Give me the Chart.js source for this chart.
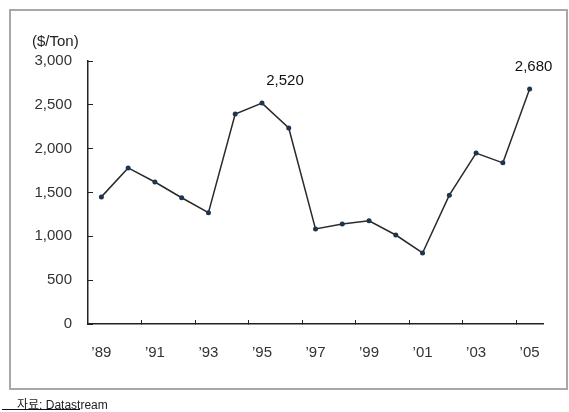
<!DOCTYPE html>
<html>
<head>
<meta charset="utf-8">
<script src="https://cdn.jsdelivr.net/npm/chart.js@4.4.1/dist/chart.umd.min.js"></script>
<style>
  html, body { margin: 0; padding: 0; background: #fff; }
  #wrap { position: relative; width: 569px; height: 412px; overflow: hidden; }
  #frame { position: absolute; left: 9px; top: 9px; width: 555px; height: 377px; border: 2px solid #a8a8a8; background: #fff; }
  #chart { position: absolute; left: 0; top: 0; }
  #source { position: absolute; left: 17px; top: 395px; font: 12px "Liberation Sans", "Noto Sans CJK KR", sans-serif; color: #222; }
  #underline { position: absolute; left: 2px; top: 409px; width: 78px; height: 1px; background: #111; }
</style>
</head>
<body>
<div id="wrap">
  <div id="frame"></div>
  <canvas id="chart" width="569" height="412"></canvas>
  <div id="source">자료: Datastream</div>
  <div id="underline"></div>
</div>
<script>
// yearly price, $/Ton
const years = ["’89", "’90", "’91", "’92", "’93", "’94", "’95", "’96", "’97", "’98", "’99", "’00", "’01", "’02", "’03", "’04", "’05"];
const prices = [1450, 1780, 1620, 1440, 1270, 2395, 2520, 2236, 1085, 1140, 1178, 1015, 810, 1470, 1950, 1838, 2680];
const labelledYears = ["’95", "’05"];
const yTicks = [0, 500, 1000, 1500, 2000, 2500, 3000];

const fontFamily = '"Liberation Sans", Arial, sans-serif';

// value labels above the two peaks
const peakLabels = {
    id: "peakLabels",
    afterDatasetsDraw(chart) {
        const ctx = chart.ctx;
        const meta = chart.getDatasetMeta(0);
        const shift = { "’95": 23, "’05": 4 };
        ctx.save();
        ctx.font = "15px " + fontFamily;
        ctx.fillStyle = "#111";
        ctx.textAlign = "center";
        ctx.textBaseline = "middle";
        labelledYears.forEach(function(y) {
            const i = years.indexOf(y);
            const pt = meta.data[i];
            ctx.fillText(prices[i].toLocaleString("en-US"), pt.x + (shift[y] || 0), pt.y - 22);
        });
        ctx.restore();
    }
};

// unit caption above the y axis
const unitCaption = {
    id: "unitCaption",
    afterDraw(chart) {
        const ctx = chart.ctx;
        ctx.save();
        ctx.font = "15px " + fontFamily;
        ctx.fillStyle = "#222";
        ctx.textAlign = "left";
        ctx.textBaseline = "middle";
        ctx.fillText("($/Ton)", 32, 42);
        ctx.restore();
    }
};

const ctxChart = document.getElementById("chart").getContext("2d");
new Chart(ctxChart, {
    type: "line",
    data: {
        labels: years,
        datasets: [{
            data: prices,
            borderColor: "#2a2a2a",
            borderWidth: 1.5,
            pointRadius: 2.5,
            pointBackgroundColor: "#1c3552",
            pointBorderColor: "#1c3552",
            pointBorderWidth: 0,
            tension: 0,
            fill: false
        }]
    },
    options: {
        responsive: false,
        animation: false,
        layout: { padding: { left: 0, right: 26, top: 61, bottom: 0 } },
        plugins: {
            legend: { display: false },
            tooltip: { enabled: false }
        },
        scales: {
            x: {
                type: "category",
                offset: true,
                grid: {
                    offset: true,
                    drawOnChartArea: false,
                    tickLength: -4,
                    lineWidth: 1,
                    color: function(c) {
                        return (c.index !== undefined && c.index % 2 === 0) ? "#222" : "rgba(0,0,0,0)";
                    }
                },
                border: { display: true, color: "#222", width: 1.5 },
                ticks: {
                    autoSkip: false,
                    maxRotation: 0,
                    padding: 24,
                    color: "#333",
                    font: { family: fontFamily, size: 15 },
                    callback: function(v, i) { return i % 2 === 0 ? years[i] : ""; }
                },
                afterFit: function(scale) { scale.height = 88; }
            },
            y: {
                min: 0,
                max: 3000,
                afterBuildTicks: function(scale) {
                    scale.ticks = yTicks.map(function(v) { return { value: v }; });
                },
                grid: {
                    drawOnChartArea: false,
                    tickLength: -5,
                    color: "#222",
                    lineWidth: 1
                },
                border: { display: true, color: "#222", width: 1.5 },
                ticks: {
                    padding: 21,
                    color: "#333",
                    font: { family: fontFamily, size: 15 },
                    callback: function(v) { return v.toLocaleString("en-US"); }
                },
                afterFit: function(scale) { scale.width = 88; }
            }
        }
    },
    plugins: [peakLabels, unitCaption]
});
</script>
</body>
</html>
